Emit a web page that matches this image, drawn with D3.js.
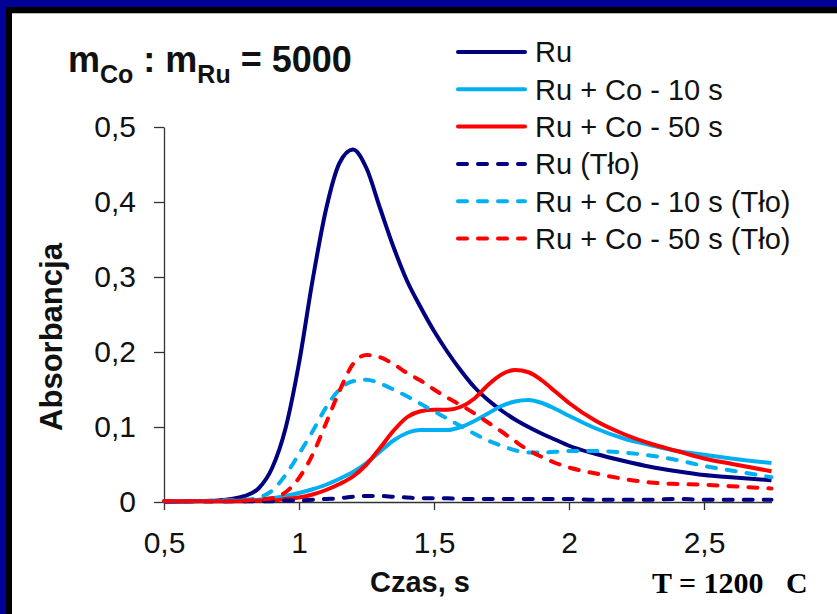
<!DOCTYPE html>
<html>
<head>
<meta charset="utf-8">
<script src="https://cdn.jsdelivr.net/npm/d3@7"></script>
<style>
  body { margin: 0; background: #fff; }
</style>
</head>
<body>
<div id="chart"></div>
<script>
// time axis (s)
const czas = [0.5, 0.6, 0.7, 0.8, 0.85, 0.9, 0.95, 1.0, 1.05, 1.1, 1.15, 1.2, 1.25, 1.3, 1.35,
              1.4, 1.45, 1.5, 1.55, 1.6, 1.65, 1.7, 1.75, 1.8, 1.85, 1.9, 1.95, 2.0, 2.1, 2.2,
              2.3, 2.4, 2.5, 2.6, 2.75];

const ru = [0.000, 0.001, 0.002, 0.008, 0.018, 0.045, 0.098, 0.185, 0.295, 0.390, 0.452, 0.470, 0.445, 0.392, 0.340,
            0.295, 0.260, 0.228, 0.200, 0.175, 0.153, 0.136, 0.122, 0.110, 0.100, 0.091, 0.083, 0.075, 0.064, 0.055,
            0.047, 0.041, 0.036, 0.033, 0.029];
const ruCo10 = [0.001, 0.001, 0.001, 0.002, 0.003, 0.005, 0.008, 0.012, 0.017, 0.023, 0.031, 0.040, 0.052, 0.067, 0.082,
                0.092, 0.096, 0.096, 0.096, 0.100, 0.108, 0.118, 0.128, 0.134, 0.136, 0.132, 0.124, 0.115, 0.098, 0.085,
                0.076, 0.068, 0.063, 0.058, 0.052];
const ruCo50 = [0.001, 0.001, 0.001, 0.001, 0.002, 0.002, 0.004, 0.006, 0.010, 0.016, 0.024, 0.034, 0.050, 0.072, 0.095,
                0.113, 0.121, 0.123, 0.123, 0.127, 0.138, 0.156, 0.170, 0.176, 0.173, 0.162, 0.147, 0.132, 0.108, 0.091,
                0.078, 0.068, 0.058, 0.051, 0.041];
const ruTlo = [0.001, 0.001, 0.001, 0.001, 0.001, 0.001, 0.002, 0.002, 0.003, 0.004, 0.005, 0.007, 0.008, 0.008, 0.007,
               0.006, 0.005, 0.005, 0.005, 0.004, 0.004, 0.004, 0.004, 0.004, 0.004, 0.004, 0.004, 0.004, 0.003, 0.003,
               0.003, 0.004, 0.003, 0.003, 0.003];
const ruCo10Tlo = [0.001, 0.001, 0.002, 0.003, 0.006, 0.015, 0.036, 0.064, 0.094, 0.126, 0.150, 0.161, 0.163, 0.158, 0.150,
                   0.141, 0.131, 0.121, 0.111, 0.101, 0.091, 0.082, 0.075, 0.069, 0.066, 0.066, 0.067, 0.068, 0.068, 0.066,
                   0.062, 0.056, 0.048, 0.042, 0.033];
const ruCo50Tlo = [0.001, 0.001, 0.001, 0.002, 0.003, 0.005, 0.013, 0.032, 0.063, 0.105, 0.148, 0.184, 0.196, 0.193, 0.184,
                   0.172, 0.162, 0.150, 0.139, 0.129, 0.118, 0.106, 0.094, 0.081, 0.069, 0.060, 0.052, 0.046, 0.038, 0.031,
                   0.026, 0.024, 0.023, 0.021, 0.018];

const names = ["Ru", "Ru + Co - 10 s", "Ru + Co - 50 s", "Ru (Tło)", "Ru + Co - 10 s (Tło)", "Ru + Co - 50 s (Tło)"];
const values = [ru, ruCo10, ruCo50, ruTlo, ruCo10Tlo, ruCo50Tlo];
const colours = ["#000080", "#00B0F0", "#FF0000", "#000080", "#00B0F0", "#FF0000"];
const dashed = [false, false, false, true, true, true];

const xTicks = [0.5, 1, 1.5, 2, 2.5];
const yTicks = [0, 0.1, 0.2, 0.3, 0.4, 0.5];

const width = 837;
const height = 614;
const margin = {top: 127, right: 65.5, bottom: 112, left: 164};
const sans = "'Liberation Sans', Arial, sans-serif";

const svg = d3.select("#chart").append("svg")
    .attr("width", width)
    .attr("height", height);

// frame
svg.append("rect").attr("x", 0).attr("y", 0).attr("width", width).attr("height", 7).attr("fill", "#000099");
svg.append("rect").attr("x", 0).attr("y", 0).attr("width", 6).attr("height", height).attr("fill", "#000099");
svg.append("rect").attr("x", 6).attr("y", 7).attr("width", width - 6).attr("height", 6).attr("fill", "#000");
svg.append("rect").attr("x", 6).attr("y", 7).attr("width", 6).attr("height", height - 7).attr("fill", "#000");
svg.append("line").attr("x1", 12).attr("x2", width).attr("y1", 13.5).attr("y2", 13.5)
    .attr("stroke", "#bbb").attr("stroke-width", 1);

const loc = d3.formatLocale({decimal: ",", thousands: " ", grouping: [3], currency: ["", ""]});
const fmt = d => loc.format("~g")(d);

const x = d3.scaleLinear().domain([0.5, 2.75]).range([margin.left, width - margin.right]);
const y = d3.scaleLinear().domain([0, 0.5]).range([height - margin.bottom, margin.top]);

const xAxisGroup = svg.append("g").attr("transform", `translate(0, ${height - margin.bottom})`)
    .call(d3.axisBottom(x).tickValues(xTicks).tickFormat(fmt).tickSize(8).tickSizeOuter(0).tickPadding(22));
const yAxisGroup = svg.append("g").attr("transform", `translate(${margin.left}, 0)`)
    .call(d3.axisLeft(y).tickValues(yTicks).tickFormat(fmt).tickSize(10).tickSizeOuter(0).tickPadding(18));

[xAxisGroup, yAxisGroup].forEach(g => {
    g.select(".domain").attr("stroke", "#333").attr("stroke-width", 1.3);
    g.selectAll(".tick line").attr("stroke", "#333").attr("stroke-width", 1.3);
    g.selectAll(".tick text").attr("font-size", 30).attr("fill", "#111")
        .attr("font-family", sans);
});

// series
const line = d3.line()
    .x((d, i) => x(czas[i]))
    .y(d => y(d))
    .curve(d3.curveMonotoneX);

const series = svg.append("g");
values.forEach((v, k) => {
    series.append("path")
        .datum(v)
        .attr("d", line)
        .attr("fill", "none")
        .attr("stroke", colours[k])
        .attr("stroke-width", 4)
        .attr("stroke-linecap", dashed[k] ? "round" : "butt")
        .attr("stroke-linejoin", "round")
        .attr("stroke-dasharray", dashed[k] ? "9 11" : null);
});

// legend
const legend = svg.append("g");
names.forEach((n, k) => {
    const ly = 52 + k * 37.3;
    legend.append("line")
        .attr("x1", 458).attr("x2", 525).attr("y1", ly).attr("y2", ly)
        .attr("stroke", colours[k]).attr("stroke-width", 4)
        .attr("stroke-linecap", "round")
        .attr("stroke-dasharray", dashed[k] ? "9 11" : null);
    legend.append("text")
        .attr("x", 535).attr("y", ly).attr("dy", "0.36em")
        .attr("font-family", sans)
        .attr("font-size", 29).attr("fill", "#111")
        .text(n);
});

// title
const title = svg.append("text").attr("x", 68).attr("y", 72)
    .attr("font-family", sans)
    .attr("font-size", 36).attr("font-weight", "bold").attr("fill", "#111");
title.append("tspan").text("m");
title.append("tspan").attr("font-size", 25).attr("dy", 11).text("Co");
title.append("tspan").attr("dy", -11).text(" : m");
title.append("tspan").attr("font-size", 25).attr("dy", 11).text("Ru");
title.append("tspan").attr("dy", -11).text(" = 5000");

// axis titles
svg.append("text")
    .attr("transform", "translate(62, 337) rotate(-90)")
    .attr("text-anchor", "middle")
    .attr("font-family", sans)
    .attr("font-size", 31).attr("font-weight", "bold").attr("fill", "#111")
    .text("Absorbancja");

svg.append("text")
    .attr("x", 420).attr("y", 592)
    .attr("text-anchor", "middle")
    .attr("font-family", sans)
    .attr("font-size", 29).attr("font-weight", "bold").attr("fill", "#111")
    .text("Czas, s");

svg.append("text")
    .attr("x", 652).attr("y", 593)
    .attr("font-family", "'Liberation Serif', 'Times New Roman', serif")
    .attr("font-size", 30).attr("font-weight", "bold").attr("fill", "#000")
    .style("white-space", "pre")
    .text("T = 1200   C");
</script>
</body>
</html>
